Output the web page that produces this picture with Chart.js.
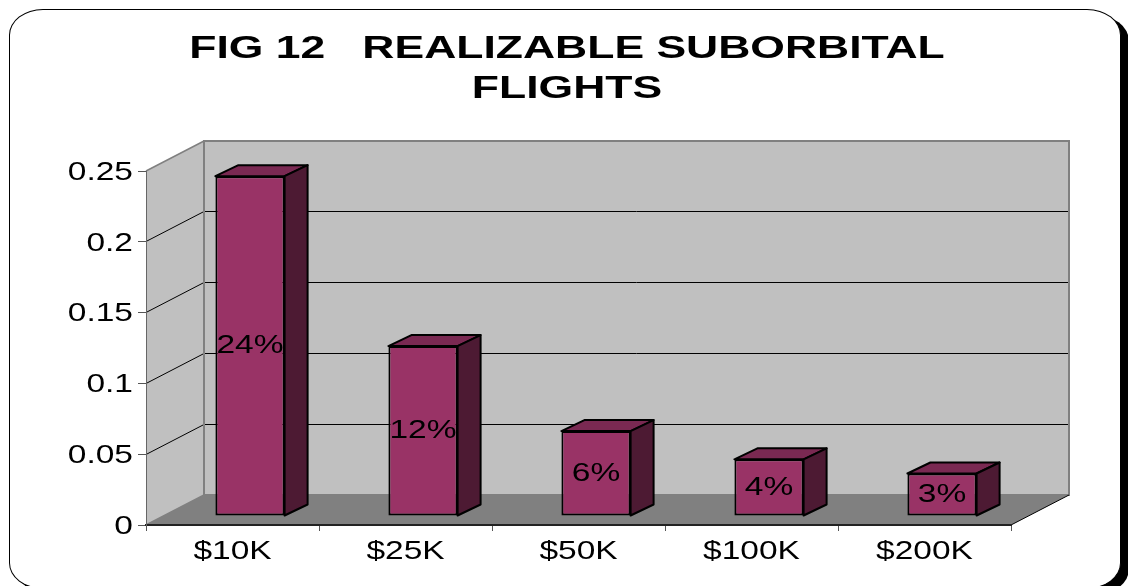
<!DOCTYPE html>
<html lang="en">
<head>
    <meta charset="UTF-8">
    <title>Fig 12 Realizable Suborbital Flights</title>
    <script src="https://cdn.jsdelivr.net/npm/chart.js"></script>
    <style>
        html, body {
            margin: 0;
            background-color: #ffffff;
            overflow: hidden;
        }
        .frame {
            position: absolute;
            left: 9px;
            top: 9px;
            width: 1110px;
            height: 578px;
            border: 1px solid #000000;
            border-radius: 34px / 26px;
            box-shadow: 8px 6px 0 #000000;
            background-color: #ffffff;
        }
        canvas {
            position: absolute;
            left: 0;
            top: 0;
        }
    </style>
</head>
<body>
    <div class="frame"></div>
    <canvas id="flightsChart" width="1128" height="586"></canvas>

    <script>
        const titleLines = ['FIG 12   REALIZABLE SUBORBITAL', 'FLIGHTS'];
        const categories = ['$10K', '$25K', '$50K', '$100K', '$200K'];
        const flightShare = [0.24, 0.12, 0.06, 0.04, 0.03];
        const barLabels = ['24%', '12%', '6%', '4%', '3%'];
        const yTickLabels = ['0', '0.05', '0.1', '0.15', '0.2', '0.25'];

        // the fake 3D box: back wall offset and how far bars sit inside it
        const wallDX = 58, wallDY = 30;
        const barDX = 17.5, barDY = 9;
        const sideDX = 23, sideDY = 11;

        // original text is stretched sideways, no installed font is that wide
        function stretchText(ctx) {
            const fillText = ctx.fillText.bind(ctx);
            ctx.fillText = function (text, x, y) {
                const k = ctx.font.indexOf('bold') >= 0 ? 1.39 : 1.34;
                const dy = ctx.textBaseline === 'middle' ? 2 : 0;
                ctx.save();
                ctx.translate(x, y + dy);
                ctx.scale(k, 1);
                fillText(text, 0, 0);
                ctx.restore();
            };
        }

        function poly(ctx, pts, fill, stroke, lineWidth) {
            ctx.beginPath();
            pts.forEach(function (p, i) {
                if (i === 0) ctx.moveTo(p[0], p[1]);
                else ctx.lineTo(p[0], p[1]);
            });
            ctx.closePath();
            if (fill) {
                ctx.fillStyle = fill;
                ctx.fill();
            }
            if (stroke) {
                ctx.strokeStyle = stroke;
                ctx.lineWidth = lineWidth;
                ctx.lineJoin = 'round';
                ctx.stroke();
            }
        }

        const box3d = {
            id: 'box3d',
            afterLayout(chart) {
                // center the title on the page, not on the plot
                chart.titleBlock.left = 0;
                chart.titleBlock.right = 1134;
            },
            beforeDraw(chart) {
                const ctx = chart.ctx;
                const a = chart.chartArea;
                const y = chart.scales.y;
                const bl = a.left + wallDX, br = a.right + wallDX;
                const bt = a.top - wallDY, bb = a.bottom - wallDY;

                poly(ctx, [[a.left, a.top], [bl, bt], [bl, bb], [a.left, a.bottom]], '#c0c0c0');
                poly(ctx, [[bl, bt], [br, bt], [br, bb], [bl, bb]], '#c0c0c0');
                poly(ctx, [[a.left, a.bottom], [a.right, a.bottom], [br, bb], [bl, bb]], '#808080');

                // grid lines run along the side wall then across the back
                ctx.strokeStyle = '#000000';
                ctx.lineWidth = 1;
                y.ticks.forEach(function (t, i) {
                    if (i === 0 || i === y.ticks.length - 1) return;
                    const p = Math.floor(y.getPixelForTick(i)) + 0.5;
                    ctx.beginPath();
                    ctx.moveTo(a.left, p);
                    ctx.lineTo(bl, p - wallDY);
                    ctx.lineTo(br, p - wallDY);
                    ctx.stroke();
                });

                // wall outlines
                ctx.strokeStyle = '#808080';
                ctx.lineWidth = 2;
                ctx.strokeRect(bl, bt, br - bl, bb - bt);
                ctx.lineWidth = 1.5;
                ctx.beginPath();
                ctx.moveTo(a.left, a.top);
                ctx.lineTo(bl, bt);
                ctx.moveTo(a.left, a.bottom);
                ctx.lineTo(bl, bb);
                ctx.stroke();
                ctx.strokeStyle = '#000000';
                ctx.lineWidth = 1;
                ctx.beginPath();
                ctx.moveTo(a.right, a.bottom);
                ctx.lineTo(br, bb);
                ctx.stroke();
            },
            beforeDatasetDraw(chart, args) {
                const ctx = chart.ctx;
                args.meta.data.forEach(function (bar) {
                    const l = bar.x - bar.width / 2 + barDX;
                    const r = bar.x + bar.width / 2 + barDX;
                    const t = bar.y - barDY;
                    const b = bar.base - barDY;
                    poly(ctx, [[l, t], [l + sideDX, t - sideDY], [r + sideDX, t - sideDY], [r, t]], '#7a2952', '#000000', 2);
                    poly(ctx, [[r, t], [r + sideDX, t - sideDY], [r + sideDX, b - sideDY], [r, b]], '#4d1a33', '#000000', 2);
                });
                ctx.save();
                ctx.translate(barDX, -barDY);
            },
            afterDatasetDraw(chart) {
                chart.ctx.restore();
            },
            afterDatasetsDraw(chart) {
                const ctx = chart.ctx;
                ctx.save();
                ctx.font = '25px "Liberation Sans"';
                ctx.fillStyle = '#000000';
                ctx.textAlign = 'center';
                ctx.textBaseline = 'middle';
                chart.getDatasetMeta(0).data.forEach(function (bar, i) {
                    ctx.fillText(barLabels[i], bar.x + barDX, (bar.y + bar.base) / 2 - barDY - 1.5);
                });
                ctx.restore();
            }
        };

        const canvas = document.getElementById('flightsChart');
        stretchText(canvas.getContext('2d'));

        const flightsChart = new Chart(canvas, {
            type: 'bar',
            data: {
                labels: categories,
                datasets: [{
                    data: flightShare,
                    backgroundColor: '#993366',
                    borderColor: '#000000',
                    borderWidth: 2,
                    borderSkipped: false,
                    barPercentage: 0.4,
                    categoryPercentage: 1
                }]
            },
            options: {
                responsive: false,
                animation: false,
                layout: {
                    padding: { left: 0, right: 117, top: 0, bottom: 0 }
                },
                plugins: {
                    legend: { display: false },
                    tooltip: { enabled: false },
                    title: {
                        display: true,
                        text: titleLines,
                        color: '#000000',
                        font: { family: '"Liberation Sans"', size: 32, weight: 'bold', lineHeight: 1.25 },
                        padding: { top: 27, bottom: 64 }
                    }
                },
                scales: {
                    x: {
                        afterFit(scale) { scale.height = 61; },
                        grid: {
                            drawOnChartArea: false,
                            tickLength: 6,
                            tickColor: '#555555'
                        },
                        border: { color: '#222222', width: 2 },
                        ticks: {
                            color: '#000000',
                            padding: 4,
                            maxRotation: 0,
                            font: { family: '"Liberation Sans"', size: 25 }
                        }
                    },
                    y: {
                        min: 0,
                        max: 0.25,
                        afterFit(scale) { scale.width = 146; },
                        grid: {
                            drawOnChartArea: false,
                            tickLength: 8,
                            tickColor: '#555555'
                        },
                        border: { color: '#666666', width: 1 },
                        ticks: {
                            stepSize: 0.05,
                            color: '#000000',
                            padding: 5,
                            font: { family: '"Liberation Sans"', size: 25 },
                            callback: function (value, index) {
                                return yTickLabels[index];
                            }
                        }
                    }
                }
            },
            plugins: [box3d]
        });
    </script>
</body>
</html>
